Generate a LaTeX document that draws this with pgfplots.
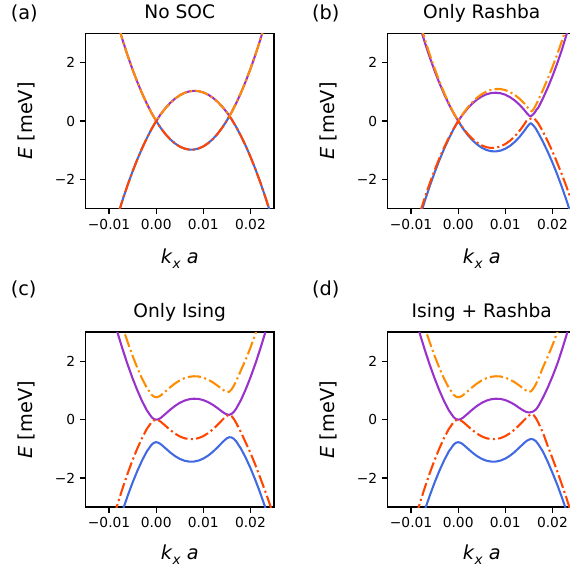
\documentclass[border=0pt]{standalone}
\usepackage{fontspec}
\setmainfont{DejaVu Sans}
\usepackage{pgfplots}
\pgfplotsset{compat=1.18}
\definecolor{cBlue}{RGB}{65,105,225}
\definecolor{cPurple}{RGB}{153,50,204}
\definecolor{cRed}{RGB}{255,69,0}
\definecolor{cOrange}{RGB}{255,140,0}
\pgfplotsset{
  band/.style={
    width=136.66pt, height=126.875pt, scale only axis,
    xmin=-0.015, xmax=0.025, ymin=-3, ymax=3,
    xtick={-0.01,0,0.01,0.02}, xticklabels={−0.01,0.00,0.01,0.02},
    ytick={-2,0,2}, yticklabels={−2,0,2},
    xtick pos=bottom, ytick pos=left,
    scaled x ticks=false, scaled y ticks=false,
    tick align=outside, major tick length=4pt,
    every tick/.style={black, line width=1pt},
    axis line style={line width=1.25pt},
    tick label style={font=\fontsize{10}{12}\selectfont},
    anchor=south west,
  },
  sol/.style={line width=1.5pt, line join=round},
  dd/.style={line width=1.5pt, dash pattern=on 9.6pt off 2.4pt on 1.5pt off 2.4pt},
}
\begin{document}
\begin{tikzpicture}
% ---------------- (a) No SOC ----------------
\begin{axis}[band, at={(61.99pt,266.44pt)}]
\addplot[sol, cBlue] coordinates {(-0.008,-3.151) (-0.007,-2.643) (-0.006,-2.168) (-0.005,-1.725) (-0.004,-1.315) (-0.003,-0.938) (-0.002,-0.593) (-0.001,-0.280) (0,0) (0.001,-0.246) (0.002,-0.457) (0.003,-0.632) (0.004,-0.772) (0.005,-0.877) (0.006,-0.946) (0.007,-0.980) (0.008,-0.979) (0.009,-0.943) (0.010,-0.871) (0.011,-0.764) (0.012,-0.622) (0.013,-0.445) (0.014,-0.232) (0.015,0.016) (0.01554,0.169) (0.016,0.061) (0.017,-0.212) (0.018,-0.517) (0.019,-0.854) (0.020,-1.224) (0.021,-1.627) (0.022,-2.062) (0.023,-2.529) (0.024,-3.029) (0.025,-3.562)};
\addplot[sol, cPurple] coordinates {(-0.008,3.237) (-0.007,2.709) (-0.006,2.216) (-0.005,1.758) (-0.004,1.336) (-0.003,0.949) (-0.002,0.598) (-0.001,0.281) (0,0) (0.001,0.239) (0.002,0.447) (0.003,0.622) (0.004,0.767) (0.005,0.881) (0.006,0.964) (0.007,1.014) (0.008,1.034) (0.009,1.023) (0.010,0.980) (0.011,0.905) (0.012,0.801) (0.013,0.663) (0.014,0.495) (0.015,0.296) (0.01554,0.169) (0.016,0.299) (0.017,0.618) (0.018,0.971) (0.019,1.361) (0.020,1.785) (0.021,2.244) (0.022,2.739) (0.023,3.270)};
\addplot[dd, cRed] coordinates {(-0.008,-3.151) (-0.007,-2.643) (-0.006,-2.168) (-0.005,-1.725) (-0.004,-1.315) (-0.003,-0.938) (-0.002,-0.593) (-0.001,-0.280) (0,0) (0.001,-0.246) (0.002,-0.457) (0.003,-0.632) (0.004,-0.772) (0.005,-0.877) (0.006,-0.946) (0.007,-0.980) (0.008,-0.979) (0.009,-0.943) (0.010,-0.871) (0.011,-0.764) (0.012,-0.622) (0.013,-0.445) (0.014,-0.232) (0.015,0.016) (0.01554,0.169) (0.016,0.061) (0.017,-0.212) (0.018,-0.517) (0.019,-0.854) (0.020,-1.224) (0.021,-1.627) (0.022,-2.062) (0.023,-2.529) (0.024,-3.029) (0.025,-3.562)};
\addplot[dd, cOrange] coordinates {(-0.008,3.237) (-0.007,2.709) (-0.006,2.216) (-0.005,1.758) (-0.004,1.336) (-0.003,0.949) (-0.002,0.598) (-0.001,0.281) (0,0) (0.001,0.239) (0.002,0.447) (0.003,0.622) (0.004,0.767) (0.005,0.881) (0.006,0.964) (0.007,1.014) (0.008,1.034) (0.009,1.023) (0.010,0.980) (0.011,0.905) (0.012,0.801) (0.013,0.663) (0.014,0.495) (0.015,0.296) (0.01554,0.169) (0.016,0.299) (0.017,0.618) (0.018,0.971) (0.019,1.361) (0.020,1.785) (0.021,2.244) (0.022,2.739) (0.023,3.270)};
\end{axis}
% ---------------- (b) Only Rashba ----------------
\begin{axis}[band, at={(280.94pt,266.44pt)}]
\addplot[sol, cBlue] coordinates {(-0.008,-3.215) (-0.007,-2.699) (-0.006,-2.216) (-0.005,-1.765) (-0.004,-1.347) (-0.003,-0.962) (-0.002,-0.609) (-0.001,-0.288) (0,0) (0.001,-0.254) (0.002,-0.473) (0.003,-0.656) (0.004,-0.804) (0.005,-0.917) (0.006,-0.994) (0.007,-1.036) (0.008,-1.043) (0.009,-1.015) (0.010,-0.951) (0.011,-0.852) (0.012,-0.718) (0.013,-0.549) (0.014,-0.344) (0.0145,-0.229) (0.015,-0.125) (0.0154,-0.07) (0.0158,-0.13) (0.0162,-0.20) (0.0165,-0.271) (0.017,-0.412) (0.018,-0.717) (0.019,-1.054) (0.020,-1.424) (0.021,-1.827) (0.022,-2.262) (0.023,-2.729) (0.024,-3.229)};
\addplot[sol, cPurple] coordinates {(-0.008,3.173) (-0.007,2.653) (-0.006,2.168) (-0.005,1.718) (-0.004,1.304) (-0.003,0.925) (-0.002,0.582) (-0.001,0.273) (0,0) (0.001,0.231) (0.002,0.431) (0.003,0.598) (0.004,0.735) (0.005,0.841) (0.006,0.916) (0.007,0.958) (0.008,0.970) (0.009,0.951) (0.010,0.900) (0.011,0.817) (0.012,0.705) (0.013,0.559) (0.014,0.383) (0.0145,0.283) (0.015,0.19) (0.0154,0.16) (0.0158,0.21) (0.0162,0.28) (0.0166,0.38) (0.017,0.46) (0.018,0.78) (0.019,1.14) (0.020,1.535) (0.021,1.97) (0.022,2.44) (0.023,2.97) (0.024,3.53)};
\addplot[dd, cRed] coordinates {(-0.008,-3.087) (-0.007,-2.587) (-0.006,-2.120) (-0.005,-1.685) (-0.004,-1.283) (-0.003,-0.914) (-0.002,-0.577) (-0.001,-0.272) (0,0) (0.001,-0.238) (0.002,-0.441) (0.003,-0.608) (0.004,-0.740) (0.005,-0.837) (0.006,-0.898) (0.007,-0.924) (0.008,-0.915) (0.009,-0.871) (0.010,-0.791) (0.011,-0.676) (0.012,-0.526) (0.013,-0.341) (0.014,-0.120) (0.0145,0.003) (0.015,0.05) (0.0154,0.085) (0.0158,0.10) (0.0161,0.085) (0.0165,0.02) (0.017,-0.082) (0.018,-0.367) (0.019,-0.694) (0.020,-1.044) (0.021,-1.427) (0.022,-1.832) (0.023,-2.259) (0.024,-2.719) (0.025,-3.21)};
\addplot[dd, cOrange] coordinates {(-0.008,3.301) (-0.007,2.765) (-0.006,2.264) (-0.005,1.798) (-0.004,1.368) (-0.003,0.973) (-0.002,0.614) (-0.001,0.289) (0,0) (0.001,0.247) (0.002,0.463) (0.003,0.646) (0.004,0.799) (0.005,0.921) (0.006,1.012) (0.007,1.070) (0.008,1.098) (0.009,1.095) (0.010,1.060) (0.011,0.993) (0.012,0.897) (0.013,0.767) (0.014,0.607) (0.015,0.416) (0.0153,0.37) (0.01555,0.335) (0.0158,0.36) (0.016,0.40) (0.0165,0.55) (0.017,0.718) (0.018,1.07) (0.019,1.45) (0.020,1.85) (0.021,2.28) (0.022,2.74) (0.023,3.22)};
\end{axis}
% ---------------- (c) Only Ising ----------------
\begin{axis}[band, at={(61.99pt,49.88pt)}]
\addplot[sol, cBlue] coordinates {(-0.008,-3.559) (-0.007,-3.056) (-0.006,-2.587) (-0.005,-2.152) (-0.004,-1.755) (-0.003,-1.398) (-0.002,-1.091) (-0.001,-0.861) (-0.0005,-0.793) (0,-0.770) (0.0005,-0.792) (0.001,-0.843) (0.002,-0.984) (0.003,-1.126) (0.004,-1.248) (0.005,-1.343) (0.006,-1.406) (0.007,-1.437) (0.008,-1.435) (0.009,-1.401) (0.010,-1.333) (0.011,-1.233) (0.012,-1.104) (0.013,-0.951) (0.014,-0.783) (0.0145,-0.704) (0.015,-0.638) (0.0155,-0.601) (0.016,-0.608) (0.0165,-0.659) (0.017,-0.748) (0.018,-0.996) (0.019,-1.304) (0.020,-1.657) (0.021,-2.050) (0.022,-2.478) (0.023,-2.939) (0.024,-3.436)};
\addplot[sol, cPurple] coordinates {(-0.009,3.435) (-0.008,2.875) (-0.007,2.352) (-0.006,1.865) (-0.005,1.415) (-0.004,1.006) (-0.003,0.639) (-0.002,0.326) (-0.001,0.092) (-0.0005,0.023) (0,0) (0.0005,0.018) (0.001,0.066) (0.002,0.204) (0.003,0.346) (0.004,0.473) (0.005,0.577) (0.006,0.654) (0.007,0.701) (0.008,0.720) (0.009,0.711) (0.010,0.672) (0.011,0.604) (0.012,0.513) (0.013,0.399) (0.014,0.276) (0.0145,0.220) (0.015,0.180) (0.0155,0.169) (0.016,0.198) (0.0165,0.272) (0.017,0.384) (0.018,0.680) (0.019,1.041) (0.020,1.448) (0.021,1.897) (0.022,2.385) (0.023,2.910) (0.024,3.472)};
\addplot[dd, cRed] coordinates {(-0.009,-3.326) (-0.008,-2.789) (-0.007,-2.286) (-0.006,-1.817) (-0.005,-1.382) (-0.004,-0.985) (-0.003,-0.628) (-0.002,-0.321) (-0.001,-0.091) (-0.0005,-0.023) (0,0) (0.0005,-0.022) (0.001,-0.073) (0.002,-0.214) (0.003,-0.356) (0.004,-0.478) (0.005,-0.573) (0.006,-0.636) (0.007,-0.667) (0.008,-0.665) (0.009,-0.631) (0.010,-0.563) (0.011,-0.463) (0.012,-0.334) (0.013,-0.181) (0.014,-0.013) (0.0145,0.066) (0.015,0.132) (0.0155,0.169) (0.016,0.122) (0.0165,0.021) (0.017,-0.118) (0.018,-0.436) (0.019,-0.784) (0.020,-1.137) (0.021,-1.530) (0.022,-1.958) (0.023,-2.389) (0.024,-2.846) (0.025,-3.346)};
\addplot[dd, cOrange] coordinates {(-0.008,3.645) (-0.007,3.122) (-0.006,2.635) (-0.005,2.185) (-0.004,1.776) (-0.003,1.409) (-0.002,1.096) (-0.001,0.862) (-0.0005,0.793) (0,0.770) (0.0005,0.788) (0.001,0.836) (0.002,0.974) (0.003,1.116) (0.004,1.243) (0.005,1.347) (0.006,1.424) (0.007,1.471) (0.008,1.490) (0.009,1.481) (0.010,1.442) (0.011,1.374) (0.012,1.283) (0.013,1.169) (0.014,1.046) (0.0145,0.990) (0.015,0.950) (0.0155,0.959) (0.016,1.038) (0.0165,1.172) (0.017,1.334) (0.018,1.700) (0.019,2.061) (0.020,2.468) (0.021,2.917) (0.022,3.405)};
\end{axis}
% ---------------- (d) Ising + Rashba ----------------
\begin{axis}[band, at={(280.94pt,49.88pt)}]
\addplot[sol, cBlue] coordinates {(-0.008,-3.559) (-0.007,-3.056) (-0.006,-2.587) (-0.005,-2.152) (-0.004,-1.755) (-0.003,-1.398) (-0.002,-1.091) (-0.001,-0.861) (-0.0005,-0.793) (0,-0.770) (0.0005,-0.792) (0.001,-0.843) (0.002,-0.984) (0.003,-1.126) (0.004,-1.248) (0.005,-1.343) (0.006,-1.406) (0.007,-1.437) (0.008,-1.435) (0.009,-1.401) (0.010,-1.333) (0.011,-1.233) (0.012,-1.104) (0.013,-0.951) (0.014,-0.800) (0.0145,-0.730) (0.015,-0.685) (0.0155,-0.660) (0.016,-0.680) (0.0165,-0.740) (0.017,-0.840) (0.018,-1.100) (0.019,-1.440) (0.020,-1.820) (0.021,-2.220) (0.022,-2.660) (0.023,-3.130)};
\addplot[sol, cPurple] coordinates {(-0.009,3.435) (-0.008,2.875) (-0.007,2.352) (-0.006,1.865) (-0.005,1.415) (-0.004,1.006) (-0.003,0.639) (-0.002,0.326) (-0.001,0.092) (-0.0005,0.023) (0,0) (0.0005,0.018) (0.001,0.066) (0.002,0.204) (0.003,0.346) (0.004,0.473) (0.005,0.577) (0.006,0.654) (0.007,0.701) (0.008,0.720) (0.009,0.711) (0.010,0.672) (0.011,0.604) (0.012,0.513) (0.013,0.399) (0.014,0.300) (0.0145,0.262) (0.015,0.250) (0.0155,0.258) (0.016,0.290) (0.0165,0.350) (0.017,0.460) (0.018,0.760) (0.019,1.100) (0.020,1.480) (0.021,1.897) (0.022,2.385) (0.023,2.910) (0.024,3.472)};
\addplot[dd, cRed] coordinates {(-0.009,-3.326) (-0.008,-2.789) (-0.007,-2.286) (-0.006,-1.817) (-0.005,-1.382) (-0.004,-0.985) (-0.003,-0.628) (-0.002,-0.321) (-0.001,-0.091) (-0.0005,-0.023) (0,0) (0.0005,-0.022) (0.001,-0.073) (0.002,-0.214) (0.003,-0.356) (0.004,-0.478) (0.005,-0.573) (0.006,-0.636) (0.007,-0.667) (0.008,-0.665) (0.009,-0.631) (0.010,-0.563) (0.011,-0.463) (0.012,-0.334) (0.013,-0.181) (0.014,-0.013) (0.0145,0.066) (0.015,0.140) (0.0155,0.185) (0.016,0.160) (0.0165,0.050) (0.017,-0.100) (0.018,-0.450) (0.019,-0.900) (0.020,-1.320) (0.021,-1.760) (0.022,-2.220) (0.023,-2.700) (0.024,-3.200)};
\addplot[dd, cOrange] coordinates {(-0.008,3.645) (-0.007,3.122) (-0.006,2.635) (-0.005,2.185) (-0.004,1.776) (-0.003,1.409) (-0.002,1.096) (-0.001,0.862) (-0.0005,0.793) (0,0.770) (0.0005,0.788) (0.001,0.836) (0.002,0.974) (0.003,1.116) (0.004,1.243) (0.005,1.347) (0.006,1.424) (0.007,1.471) (0.008,1.490) (0.009,1.481) (0.010,1.442) (0.011,1.374) (0.012,1.283) (0.013,1.169) (0.014,1.046) (0.0145,0.990) (0.015,0.950) (0.0155,0.980) (0.016,1.080) (0.0165,1.220) (0.017,1.400) (0.018,1.800) (0.019,2.160) (0.020,2.550) (0.021,2.980) (0.022,3.450)};
\end{axis}
% ---------------- texts ----------------
\begin{scope}[every node/.style={font=\fontsize{14}{16}\selectfont, inner sep=0pt}]
\node[anchor=base, font=\fontsize{13.5}{16}\selectfont] at (130.32pt,403.83pt) {No SOC};
\node[anchor=base, font=\fontsize{13.5}{16}\selectfont] at (349.27pt,403.83pt) {Only Rashba};
\node[anchor=base, font=\fontsize{13.5}{16}\selectfont] at (130.32pt,187.41pt) {Only Ising};
\node[anchor=base, font=\fontsize{13.5}{16}\selectfont] at (349.27pt,187.41pt) {Ising + Rashba};
\node[anchor=base west] at (7.6pt,403.46pt) {(a)};
\node[anchor=base west] at (226pt,403.46pt) {(b)};
\node[anchor=base west] at (7.6pt,203.0pt) {(c)};
\node[anchor=base west] at (226pt,203.0pt) {(d)};
\node[rotate=90] at (19.36pt,329.9pt) {\textit{E} [meV]};
\node[rotate=90] at (238.3pt,329.9pt) {\textit{E} [meV]};
\node[rotate=90] at (19.36pt,113.3pt) {\textit{E} [meV]};
\node[rotate=90] at (238.3pt,113.3pt) {\textit{E} [meV]};
\node at (130.32pt,229.8pt) {\textit{k}\raisebox{-0.25em}{\fontsize{9.8}{11}\selectfont\textit{x}} \textit{a}};
\node at (349.27pt,229.8pt) {\textit{k}\raisebox{-0.25em}{\fontsize{9.8}{11}\selectfont\textit{x}} \textit{a}};
\node at (130.32pt,15.2pt) {\textit{k}\raisebox{-0.25em}{\fontsize{9.8}{11}\selectfont\textit{x}} \textit{a}};
\node at (349.27pt,15.2pt) {\textit{k}\raisebox{-0.25em}{\fontsize{9.8}{11}\selectfont\textit{x}} \textit{a}};
\end{scope}
\pgfresetboundingbox
\useasboundingbox (0pt,0pt) rectangle (412.53pt,417.6pt);
\end{tikzpicture}
\end{document}
